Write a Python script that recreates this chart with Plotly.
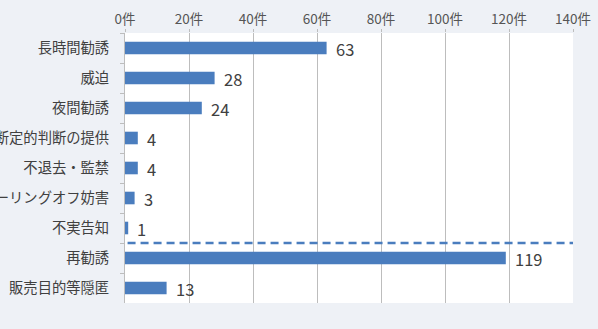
import plotly.graph_objects as go

categories = ["長時間勧誘", "威迫", "夜間勧誘", "断定的判断の提供", "不退去・監禁",
              "クーリングオフ妨害", "不実告知", "再勧誘", "販売目的等隠匿"]
values = [63, 28, 24, 4, 4, 3, 1, 119, 13]
tick_vals = [0, 20, 40, 60, 80, 100, 120, 140]
tick_text = [f"{v}件" for v in tick_vals]

BAR = "#4A7DBE"
FONT = "Noto Sans CJK JP"

fig = go.Figure()
fig.add_trace(go.Bar(
    y=categories, x=values, orientation="h",
    marker=dict(color=BAR, line=dict(width=0)),
    width=0.42, hoverinfo="skip",
))

for c, v in zip(categories, values):
    fig.add_annotation(x=v, y=c, xref="x", yref="y", text=str(v),
                       showarrow=False, xanchor="left", xshift=7, yshift=-1,
                       font=dict(family=FONT, size=16.5, color="#404040"))

# dashed separator between 不実告知 and 再勧誘
fig.add_shape(type="line", xref="x", yref="y", x0=0.8, x1=140,
              y0=6.5, y1=6.5,
              line=dict(color=BAR, width=2.5, dash="8px,5px"))

fig.update_layout(
    width=598, height=329,
    margin=dict(l=125, r=25, t=33, b=26),
    paper_bgcolor="#EEF1F6",
    plot_bgcolor="#FFFFFF",
    showlegend=False,
    font=dict(family=FONT, color="#404040"),
    xaxis=dict(
        side="top", range=[0, 140], tickvals=tick_vals, ticktext=tick_text,
        showgrid=True, gridcolor="#BDBDBD", gridwidth=1,
        zeroline=False, showline=False,
        ticks="outside", ticklen=3, tickcolor="#BDBDBD",
        tickfont=dict(family=FONT, size=13.5, color="#555555"),
        automargin=False, fixedrange=True,
    ),
    yaxis=dict(
        type="category", categoryorder="array", categoryarray=categories,
        autorange="reversed",
        showline=True, linecolor="#BDBDBD", linewidth=1,
        ticks="outside", ticklen=4, tickcolor="#BDBDBD", tickson="boundaries",
        tickfont=dict(family=FONT, size=14.3, color="#404040"),
        ticklabelstandoff=12,
        showgrid=False, automargin=False, fixedrange=True,
    ),
)

fig.write_html(
    "out.html",
    config={"displayModeBar": False},
    post_script="document.body.style.margin='0';document.body.style.padding='0';"
                "document.body.style.overflow='hidden';",
)
